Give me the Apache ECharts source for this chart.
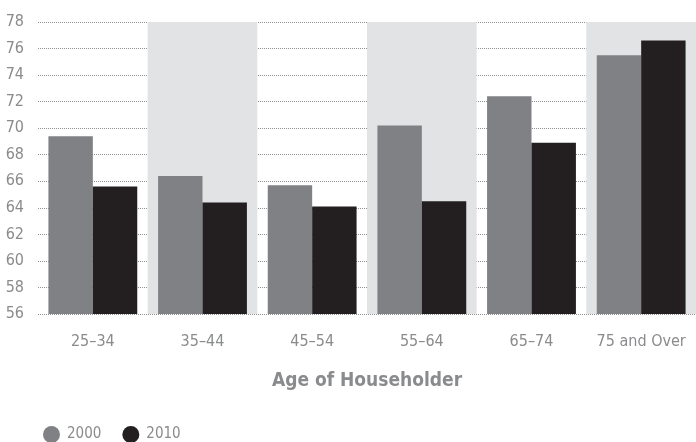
<!DOCTYPE html>
<html>
<head>
<meta charset="utf-8">
<script src="https://cdn.jsdelivr.net/npm/echarts@6/dist/echarts.min.js"></script>
<style>
html,body{margin:0;padding:0;background:#fff;}
#chart{width:696px;height:442px;}
</style>
</head>
<body>
<div id="chart"></div>
<script>
const categories = ['25–34', '35–44', '45–54', '55–64', '65–74', '75 and Over'];
const values2000 = [69.4, 66.4, 65.7, 70.2, 72.4, 75.5];
const values2010 = [65.6, 64.4, 64.1, 64.5, 68.9, 76.6];
const yTicks = { min: 56, max: 78, interval: 2 };

const FONT = '"Liberation Sans Narrow", "DejaVu Sans Condensed", "Roboto", sans-serif';
const chart = echarts.init(document.getElementById('chart'));
chart.setOption({
  animation: false,
  grid: { left: 38, top: 22, width: 668, height: 292, containLabel: false },
  legend: {
    left: 38, top: 421,
    icon: 'circle', itemWidth: 17, itemHeight: 17, itemGap: 21,
    textStyle: { color: '#8a8b8d', fontFamily: FONT, fontSize: 15, padding: [0, 0, 0, 2] },
    data: ['2000', '2010']
  },
  xAxis: {
    type: 'category',
    data: categories,
    axisLine: { show: false },
    axisTick: { show: false },
    axisLabel: { color: '#8a8b8d', fontFamily: FONT, fontSize: 16, margin: 20, interval: 0 },
    splitArea: { show: true, interval: 0, areaStyle: { color: ['rgba(0,0,0,0)', '#e2e3e5'] } },
    name: 'Age of Householder',
    nameLocation: 'middle',
    nameGap: 58,
    nameTextStyle: { color: '#8a8b8d', fontFamily: FONT, fontSize: 19, fontWeight: 'bold' }
  },
  yAxis: {
    type: 'value',
    min: yTicks.min, max: yTicks.max, interval: yTicks.interval,
    axisLine: { show: false },
    axisTick: { show: false },
    axisLabel: { color: '#8a8b8d', fontFamily: FONT, fontSize: 16, margin: 14 },
    splitLine: { show: true, lineStyle: { color: '#8f9092', type: [1, 1], width: 1 } }
  },
  series: [
    { name: '2000', type: 'bar', data: values2000, itemStyle: { color: '#808184' }, barGap: '0%', barCategoryGap: '19%' },
    { name: '2010', type: 'bar', data: values2010, itemStyle: { color: '#231f20' }, barGap: '0%', barCategoryGap: '19%' }
  ]
});
</script>
</body>
</html>
